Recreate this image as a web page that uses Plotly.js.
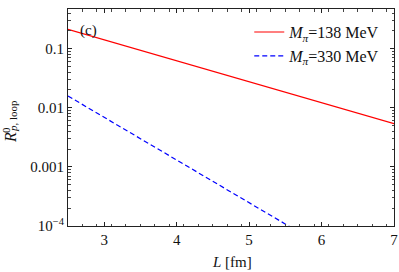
<!DOCTYPE html>
<html>
<head>
<meta charset="utf-8">
<script src="https://cdn.plot.ly/plotly-3.0.1.min.js"></script>
<style>html,body{margin:0;padding:0;background:#fff;}#chart{width:399px;height:272px;}</style>
</head>
<body>
<div id="chart"></div>
<script>
const L = [2.5, 3, 3.5, 4, 4.5, 5, 5.5, 6, 6.5, 7];
const R138 = [0.212, 0.141, 0.0939, 0.0624, 0.0415, 0.0276, 0.0184, 0.0122, 0.00812, 0.0054];
const R330 = [0.0158, 0.00688, 0.00300, 0.00131, 0.000569, 0.000248, 0.000108, 0.000047];
const L330 = L.slice(0, R330.length);
const seriesNames = ['<i>M</i><sub><i>π</i></sub>=138 MeV', '<i>M</i><sub><i>π</i></sub>=330 MeV'];
const yTickVals = [1e-4, 1e-3, 1e-2, 0.1];
const yTickText = ['10<sup>−4</sup>', '0.001', '0.01', '0.1'];
const xTickVals = [3, 4, 5, 6, 7];

const font = 'Liberation Serif, Times New Roman, serif';
const axisCommon = {
  showgrid: false, zeroline: false, showline: true, linecolor: '#222', linewidth: 1,
  mirror: 'ticks', ticks: 'inside', ticklen: 4, tickcolor: '#222',
  tickfont: {family: font, size: 15, color: '#111'}
};

const data = [
  {x: L, y: R138, mode: 'lines', name: seriesNames[0], line: {color: '#ff0000', width: 1.2}},
  {x: L330, y: R330, mode: 'lines', name: seriesNames[1], line: {color: '#0000ff', width: 1.2, dash: '5px,3px'}}
];

const px2x = p => (p - 68) / 326;
const px2y = p => (226 - p) / 217;

const layout = {
  width: 399, height: 272,
  margin: {l: 68, r: 5, t: 9, b: 46},
  paper_bgcolor: '#fff', plot_bgcolor: '#fff',
  showlegend: true,
  legend: {x: 0.556, y: 0.972, xanchor: 'left', yanchor: 'top', bgcolor: 'rgba(0,0,0,0)',
           font: {family: font, size: 16, color: '#111'}, itemwidth: 30, tracegroupgap: 0},
  xaxis: Object.assign({}, axisCommon, {range: [2.5, 7], tickvals: xTickVals,
           minor: {ticks: 'inside', ticklen: 2.5, dtick: 0.2, tick0: 2.5, tickcolor: '#444', showgrid: false}}),
  yaxis: Object.assign({}, axisCommon, {type: 'log', range: [-4, -0.33], tickvals: yTickVals, ticktext: yTickText,
           minor: {ticks: 'inside', ticklen: 2.5, dtick: 'D1', tickcolor: '#444', showgrid: false}}),
  annotations: [
    {xref: 'paper', yref: 'paper', x: px2x(88), y: px2y(30), text: '(c)', showarrow: false,
     font: {family: font, size: 15, color: '#111'}, xanchor: 'center', yanchor: 'middle'},
    {xref: 'paper', yref: 'paper', x: px2x(231.5), y: px2y(262), text: '<i>L</i> [fm]', showarrow: false,
     font: {family: font, size: 15, color: '#111'}, xanchor: 'center', yanchor: 'middle'},
    {xref: 'paper', yref: 'paper', x: px2x(10), y: px2y(138), text: '<i>R</i>', showarrow: false, textangle: -90,
     font: {family: font, size: 16, color: '#111'}, xanchor: 'center', yanchor: 'middle'},
    {xref: 'paper', yref: 'paper', x: px2x(5.5), y: px2y(130.5), text: '0', showarrow: false, textangle: -90,
     font: {family: font, size: 11, color: '#111'}, xanchor: 'center', yanchor: 'middle'},
    {xref: 'paper', yref: 'paper', x: px2x(12.5), y: px2y(116.5), text: '<i>p</i>, loop', showarrow: false, textangle: -90,
     font: {family: font, size: 11, color: '#111'}, xanchor: 'center', yanchor: 'middle'}
  ]
};

Plotly.newPlot('chart', data, layout, {displayModeBar: false, staticPlot: true});
</script>
</body>
</html>
